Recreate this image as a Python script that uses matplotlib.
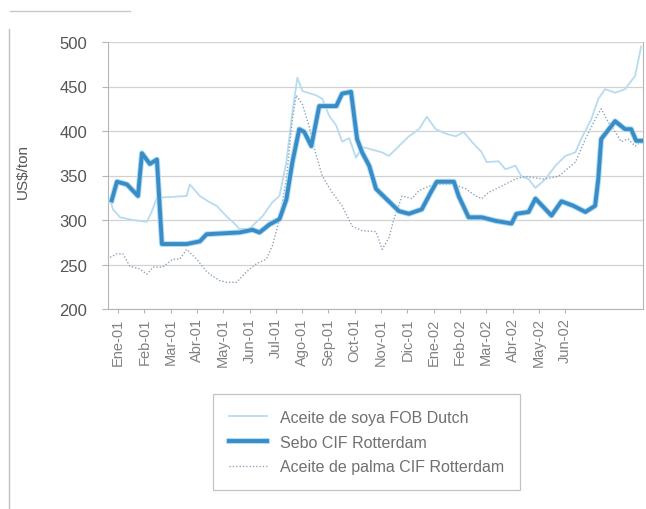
import matplotlib
matplotlib.use('Agg')
import matplotlib.pyplot as plt
from matplotlib.lines import Line2D
import matplotlib.patheffects as pe

plt.rcParams['font.family'] = ['Liberation Sans', 'DejaVu Sans']

# months since Ene-01 (weekly-ish readings)
meses = ['Ene-01', 'Feb-01', 'Mar-01', 'Abr-01', 'May-01', 'Jun-01', 'Jul-01', 'Ago-01', 'Sep-01',
         'Oct-01', 'Nov-01', 'Dic-01', 'Ene-02', 'Feb-02', 'Mar-02', 'Abr-02', 'May-02', 'Jun-02']

soya_x = [-0.30, -0.19, 0.08, 0.57, 1.10, 1.29, 1.48, 2.61, 2.73, 3.11, 3.48, 3.75, 4.13, 4.36, 4.62,
          5.00, 5.27, 5.49, 5.87, 6.14, 6.40, 6.63, 6.82, 7.01, 7.54, 7.77, 8.03, 8.30, 8.52, 8.79,
          9.05, 9.28, 9.55, 10.04, 10.30, 10.68, 11.06, 11.44, 11.74, 12.08, 12.46, 12.84, 13.14,
          13.45, 13.83, 14.02, 14.47, 14.73, 15.11, 15.34, 15.61, 15.87, 16.25, 16.63, 17.01, 17.39,
          17.61, 17.99, 18.26, 18.52, 18.90, 19.28, 19.66, 19.89]
soya_y = [323, 312, 303, 300, 298, 310, 325, 327, 340, 327, 320, 316, 304, 298, 290,
          290, 298, 304, 320, 327, 365, 421, 460, 445, 440, 436, 417, 406, 388, 392,
          370, 382, 380, 376, 372, 383, 394, 402, 416, 402, 397, 394, 399,
          388, 376, 365, 366, 357, 361, 349, 346, 336, 346, 361, 372, 376,
          391, 413, 436, 447, 443, 447, 462, 495]

sebo_x = [-0.24, -0.04, 0.34, 0.76, 0.91, 1.21, 1.48, 1.67, 2.61, 3.11, 3.37, 4.62, 5.11, 5.38, 5.76,
          6.14, 6.40, 6.63, 6.89, 7.08, 7.35, 7.65, 8.30, 8.52, 8.86, 9.09, 9.28, 9.55, 9.81, 10.19,
          10.68, 11.06, 11.55, 11.89, 12.12, 12.77, 12.95, 13.33, 13.83, 14.36, 14.96, 15.15, 15.61,
          15.87, 16.48, 16.86, 17.31, 17.77, 18.14, 18.26, 18.37, 18.90, 19.28, 19.51, 19.70, 19.96]
sebo_y = [322, 343, 340, 327, 375, 363, 368, 273, 273, 276, 284, 286, 289, 286, 295,
          301, 323, 365, 402, 399, 383, 428, 428, 442, 444, 391, 376, 361, 335, 324,
          310, 307, 312, 331, 343, 343, 327, 303, 303, 299, 296, 307, 309,
          324, 305, 321, 316, 309, 316, 346, 391, 411, 402, 402, 389, 389]

palma_x = [-0.30, -0.04, 0.19, 0.45, 0.83, 1.10, 1.33, 1.70, 2.08, 2.35, 2.61, 2.99, 3.37, 3.60, 3.86,
           4.13, 4.51, 4.89, 5.27, 5.64, 5.87, 6.14, 6.40, 6.63, 6.78, 7.01, 7.27, 7.39, 7.77, 8.14,
           8.52, 8.90, 9.28, 9.81, 10.04, 10.30, 10.49, 10.80, 11.17, 11.44, 11.82, 12.20, 12.77,
           13.22, 13.60, 13.83, 14.09, 14.58, 15.11, 15.49, 16.17, 16.74, 17.39, 17.77, 18.14, 18.37,
           18.64, 18.90, 19.13, 19.39, 19.66, 19.96]
palma_y = [258, 262, 262, 248, 245, 239, 247, 247, 256, 256, 267, 256, 242, 237, 232,
           230, 230, 242, 251, 256, 271, 301, 346, 413, 440, 430, 405, 388, 349, 331,
           316, 293, 288, 287, 267, 280, 301, 327, 324, 333, 338, 340, 340,
           335, 327, 324, 331, 338, 346, 349, 346, 349, 365, 391, 413, 425,
           410, 399, 388, 391, 383, 390]

W, H = 646, 510
fig = plt.figure(figsize=(W / 100, H / 100), dpi=100)
ax = fig.add_axes([108 / W, 1 - 310 / H, (643 - 108) / W, (310 - 43) / H])

ax.plot(soya_x, soya_y, color='#b7dbef', lw=1.3, label='Aceite de soya FOB Dutch', zorder=3)
ax.plot(palma_x, palma_y, color='#8fa4ba', lw=1.0, ls=(0, (1, 1.4)),
        label='Aceite de palma CIF Rotterdam', zorder=3)
ax.plot(sebo_x, sebo_y, color='#3a8cc6', lw=2.8, label='Sebo CIF Rotterdam', zorder=4,
        path_effects=[pe.Stroke(linewidth=4.2, foreground='#aedcf2'), pe.Normal()])

ax.set_ylim(200, 500)
ax.set_xlim(-0.38, 19.96)
ax.set_yticks(range(200, 501, 50))
ax.set_xticks(range(len(meses)))
ax.set_xticklabels(meses, rotation=90)
ax.grid(axis='y', color='#d2d2d2', lw=0.9)
ax.set_axisbelow(True)

for s in ['top']:
    ax.spines[s].set_visible(False)
for s in ['left', 'bottom', 'right']:
    ax.spines[s].set_color('#b5b5b5')
ax.tick_params(axis='y', length=4, color='#b5b5b5', pad=11, labelsize=12, labelcolor='#555555')
ax.tick_params(axis='x', length=3, color='#b5b5b5', pad=3, labelsize=10.5, labelcolor='#808080')

ax.set_ylabel('US$/ton', fontsize=11, color='#555555')
ax.yaxis.set_label_coords(-(108 - 30) / 535, 0.52)

# legend order as in the picture
h, l = ax.get_legend_handles_labels()
order = [0, 2, 1]
leg = ax.legend([h[i] for i in order], [l[i] for i in order],
                loc='upper left', bbox_to_anchor=(213 / W, 1 - 395 / H), bbox_transform=fig.transFigure,
                borderaxespad=0, fontsize=11.5, frameon=True, fancybox=False,
                handlelength=2.4, handletextpad=0.8, labelspacing=0.6, borderpad=1.0)
leg.get_frame().set_edgecolor('#b5b5b5')
leg.get_frame().set_linewidth(0.9)
for t in leg.get_texts():
    t.set_color('#707070')

# scan frame
fig.add_artist(Line2D([9 / W, 9 / W], [1 - 30 / H, 0], color='#c0c0c0', lw=1))
fig.add_artist(Line2D([10 / W, 130 / W], [1 - 12 / H, 1 - 12 / H], color='#c8c8c8', lw=1))

fig.savefig('out.png', dpi=100)
